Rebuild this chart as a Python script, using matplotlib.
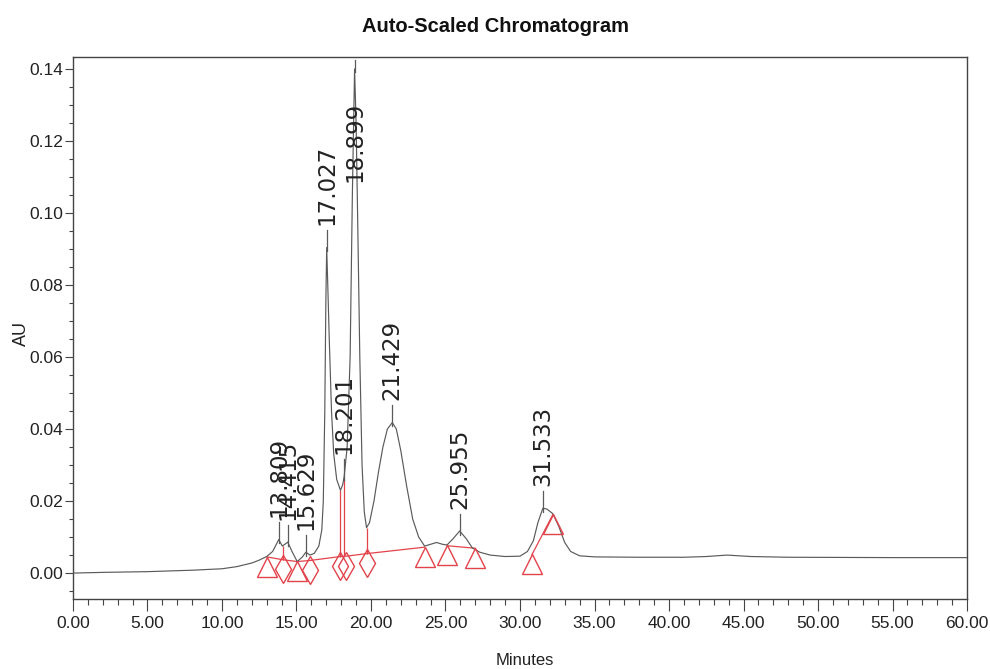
import matplotlib
matplotlib.use("Agg")
import matplotlib.pyplot as plt
import numpy as np
from matplotlib.ticker import MultipleLocator, FormatStrFormatter

plt.rcParams['font.family'] = ['Liberation Sans Narrow', 'Liberation Sans', 'DejaVu Sans']

# chromatogram trace (minutes, AU)
t = [0.0, 2.0, 5.0, 8.0, 10.0, 11.0, 12.0, 12.5, 13.0, 13.4, 13.809, 14.05, 14.415, 14.7,
     15.05, 15.4, 15.629, 15.9, 16.2, 16.5, 16.7, 16.8, 16.9, 16.97, 17.027, 17.1, 17.2,
     17.35, 17.5, 17.7, 17.95, 18.1, 18.201, 18.4, 18.6, 18.75, 18.899, 19.0, 19.1, 19.25,
     19.4, 19.55, 19.7, 19.9, 20.2, 20.5, 20.8, 21.1, 21.429, 21.7, 22.0, 22.4, 22.8, 23.2,
     23.6, 24.0, 24.4, 24.8, 25.1, 25.5, 25.955, 26.4, 26.8, 27.3, 28.0, 29.0, 30.0, 30.5,
     30.9, 31.2, 31.533, 31.8, 32.2, 32.6, 33.0, 33.4, 34.0, 35.0, 38.0, 41.0, 42.5, 43.9,
     45.5, 48.0, 55.0, 60.0]
au = [0.0000, 0.0002, 0.0004, 0.0008, 0.0012, 0.0018, 0.0028, 0.0036, 0.0046, 0.0060, 0.0093,
      0.0075, 0.0086, 0.0060, 0.0032, 0.0045, 0.0058, 0.0050, 0.0055, 0.0075, 0.0120, 0.0200,
      0.0450, 0.0750, 0.0904, 0.0800, 0.0650, 0.0450, 0.0330, 0.0260, 0.0230, 0.0245, 0.0268,
      0.0350, 0.0600, 0.1050, 0.1400, 0.1250, 0.1000, 0.0600, 0.0300, 0.0170, 0.0126, 0.0140,
      0.0200, 0.0280, 0.0350, 0.0400, 0.0418, 0.0400, 0.0340, 0.0240, 0.0150, 0.0100, 0.0075,
      0.0080, 0.0085, 0.0080, 0.0078, 0.0095, 0.0117, 0.0095, 0.0070, 0.0058, 0.0050, 0.0046,
      0.0047, 0.0060, 0.0090, 0.0140, 0.0180, 0.0178, 0.0165, 0.0130, 0.0085, 0.0060, 0.0048,
      0.0045, 0.0044, 0.0044, 0.0046, 0.0050, 0.0046, 0.0044, 0.0043, 0.0043]

# labelled peaks
peak_rt = [13.809, 14.415, 15.629, 17.027, 18.201, 18.899, 21.429, 25.955, 31.533]
peak_h = [0.0093, 0.0086, 0.0058, 0.0904, 0.0268, 0.1400, 0.0418, 0.0117, 0.0180]

# integration baseline segments
base_seg_t = [[13.0, 14.1, 15.05], [15.05, 15.9, 17.95, 18.35, 19.7, 23.6], [25.1, 27.0], [30.8, 32.2]]
base_seg_au = [[0.0045, 0.0037, 0.0032], [0.0032, 0.0035, 0.0046, 0.0047, 0.0054, 0.0072],
               [0.0076, 0.0069], [0.0051, 0.0162]]

# markers on the baseline
tri_t = [13.0, 15.05, 23.6, 25.1, 27.0, 30.8, 32.2]
tri_au = [0.0045, 0.0032, 0.0072, 0.0076, 0.0069, 0.0051, 0.0162]
dia_t = [14.1, 15.9, 17.95, 18.35, 19.7]
dia_au = [0.0037, 0.0035, 0.0046, 0.0047, 0.0054]

# valley drop lines
drop_t = [14.1, 17.95, 18.2, 19.7]
drop_lo = [0.0037, 0.0046, 0.0047, 0.0054]
drop_hi = [0.0075, 0.0230, 0.0262, 0.0126]

red = '#e2434b'
grey = '#5a5a5a'

fig = plt.figure(figsize=(9.9, 6.69), dpi=100)
ax = fig.add_axes([0.0737, 0.1046, 0.9031, 0.8102])

ax.plot(t, au, color=grey, lw=0.85, zorder=3)

for xs, ys in zip(base_seg_t, base_seg_au):
    ax.plot(xs, ys, color=red, lw=0.9, zorder=2)
ax.vlines(drop_t, drop_lo, drop_hi, color=red, lw=0.9, zorder=2)

# markers hang below the baseline point
off = 0.0027
ax.plot(tri_t, np.array(tri_au) - off, ls='none', marker='^', ms=15, mfc='none',
        mec=red, mew=1.0, zorder=4)
ax.plot(dia_t, np.array(dia_au) - off, ls='none', marker='d', ms=14, mfc='none',
        mec=red, mew=1.0, zorder=4)

# peak labels
for rt, h in zip(peak_rt, peak_h):
    ax.plot([rt, rt], [h - 0.001, min(h + 0.0048, 0.1425)], color=grey, lw=0.9, zorder=3)
    ax.text(rt, min(h + 0.0062, 0.1087), f'{rt:.3f}', rotation=90, ha='center', va='bottom',
            fontsize=16.5, family='DejaVu Sans', color='#222222', zorder=5)

ax.set_xlim(0, 60)
ax.set_ylim(-0.0072, 0.1433)
ax.xaxis.set_major_locator(MultipleLocator(5))
ax.xaxis.set_minor_locator(MultipleLocator(1))
ax.yaxis.set_major_locator(MultipleLocator(0.02))
ax.yaxis.set_minor_locator(MultipleLocator(0.005))
ax.xaxis.set_major_formatter(FormatStrFormatter('%.2f'))
ax.yaxis.set_major_formatter(FormatStrFormatter('%.2f'))
ax.tick_params(axis='x', which='major', direction='out', length=8.5, width=0.8,
               pad=4, labelsize=12.5, colors='#444444', labelcolor='#222222')
ax.tick_params(axis='x', which='minor', direction='out', length=4.3, width=0.8, colors='#444444')
ax.tick_params(axis='y', which='major', direction='out', length=5.5, width=0.8,
               pad=1.5, labelsize=12.5, colors='#444444', labelcolor='#222222')
ax.tick_params(axis='y', which='minor', direction='out', length=3, width=0.8, colors='#444444')
for s in ax.spines.values():
    s.set_color('#444444')
    s.set_linewidth(1.0)

fig.text(0.501, 0.960, 'Auto-Scaled Chromatogram', ha='center', va='center',
         fontsize=14.5, fontweight='bold', color='#111111')
fig.text(0.022, 0.502, 'AU', rotation=90, ha='center', va='center', fontsize=13,
         family='Liberation Sans', color='#222222')
fig.text(0.530, 0.013, 'Minutes', ha='center', va='center', fontsize=12, color='#222222')

fig.savefig('out.png', dpi=100)
